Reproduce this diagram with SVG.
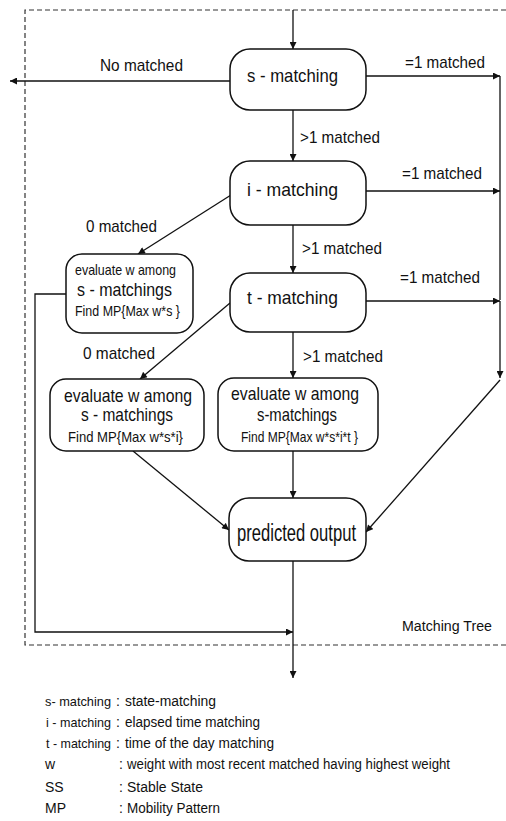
<svg xmlns="http://www.w3.org/2000/svg" width="506" height="821" viewBox="0 0 506 821">
  <defs>
    <marker id="arrow" viewBox="0 0 10 10" refX="10" refY="5" markerWidth="8" markerHeight="7" markerUnits="userSpaceOnUse" orient="auto">
      <path d="M0,0 L10,5 L0,10 z" fill="#111"/>
    </marker>
    <style>
      .box { fill: #fff; stroke: #111; stroke-width: 1.5; }
      .edge { fill: none; stroke: #111; stroke-width: 1.3; }
      .arr { marker-end: url(#arrow); }
      .frame { fill: none; stroke: #333; stroke-width: 1.2; stroke-dasharray: 5 3; }
      text { font-family: "Liberation Sans", Arial, sans-serif; fill: #111; }
      .lbl { font-size: 17px; }
      .node { font-size: 19px; }
      .small { font-size: 15px; }
      .legend { font-size: 14px; }
      .key { font-size: 13px; }
    </style>
  </defs>

  <!-- dashed boundary of the matching tree -->
  <g id="frame">
    <path class="frame" d="M506,10 H25 V645 H506"/>
    <text x="402" y="631" font-size="15.5" textLength="90" lengthAdjust="spacingAndGlyphs">Matching Tree</text>
  </g>

  <!-- connectors -->
  <g id="connectors">
    <line class="edge arr" x1="293" y1="10" x2="293" y2="49"/>
    <line class="edge arr" x1="230" y1="81" x2="10" y2="81"/>
    <line class="edge arr" x1="366" y1="76" x2="500" y2="76"/>
    <line class="edge" x1="500" y1="76" x2="500" y2="300"/>
    <line class="edge arr" x1="293" y1="110" x2="293" y2="161"/>
    <line class="edge arr" x1="366" y1="191" x2="500" y2="191"/>
    <line class="edge arr" x1="231" y1="195" x2="138" y2="254"/>
    <line class="edge arr" x1="293" y1="225" x2="293" y2="273"/>
    <line class="edge arr" x1="366" y1="301" x2="500" y2="301"/>
    <line class="edge arr" x1="500" y1="301" x2="500" y2="378"/>
    <line class="edge arr" x1="230" y1="303" x2="140" y2="379"/>
    <line class="edge arr" x1="293" y1="332" x2="293" y2="378"/>
    <line class="edge arr" x1="500" y1="380" x2="366" y2="532"/>
    <line class="edge arr" x1="133" y1="451" x2="229" y2="530"/>
    <line class="edge arr" x1="293" y1="451" x2="293" y2="498"/>
    <polyline class="edge arr" points="66,294 35,294 35,632 293,632"/>
    <line class="edge arr" x1="293" y1="561" x2="293" y2="678"/>

    <text class="lbl" x="100" y="71" textLength="83" lengthAdjust="spacingAndGlyphs">No matched</text>
    <text class="lbl" x="405" y="68" textLength="80" lengthAdjust="spacingAndGlyphs">=1 matched</text>
    <text class="lbl" x="300" y="143" textLength="80" lengthAdjust="spacingAndGlyphs">&gt;1 matched</text>
    <text class="lbl" x="402" y="179" textLength="80" lengthAdjust="spacingAndGlyphs">=1 matched</text>
    <text class="lbl" x="86" y="232" textLength="71" lengthAdjust="spacingAndGlyphs">0 matched</text>
    <text class="lbl" x="302" y="254" textLength="80" lengthAdjust="spacingAndGlyphs">&gt;1 matched</text>
    <text class="lbl" x="400" y="283" textLength="80" lengthAdjust="spacingAndGlyphs">=1 matched</text>
    <text class="lbl" x="83" y="359" textLength="72" lengthAdjust="spacingAndGlyphs">0 matched</text>
    <text class="lbl" x="303" y="362" textLength="80" lengthAdjust="spacingAndGlyphs">&gt;1 matched</text>
  </g>

  <g id="s-matching">
    <rect class="box" x="230" y="49" width="136" height="61" rx="20"/>
    <text class="node" x="247" y="82" textLength="91" lengthAdjust="spacingAndGlyphs">s  -  matching</text>
  </g>

  <g id="i-matching">
    <rect class="box" x="230" y="161" width="136" height="64" rx="20"/>
    <text class="node" x="247" y="196" textLength="91" lengthAdjust="spacingAndGlyphs">i  -  matching</text>
  </g>

  <g id="t-matching">
    <rect class="box" x="230" y="273" width="136" height="59" rx="20"/>
    <text class="node" x="247" y="304" textLength="91" lengthAdjust="spacingAndGlyphs">t  -  matching</text>
  </g>

  <g id="eval-s">
    <rect class="box" x="66" y="254" width="127" height="79" rx="16"/>
    <text class="small" x="75" y="275" textLength="101" lengthAdjust="spacingAndGlyphs">evaluate w among</text>
    <text class="node" x="77" y="296" textLength="95" lengthAdjust="spacingAndGlyphs">s - matchings</text>
    <text class="small" x="75" y="316" textLength="105" lengthAdjust="spacingAndGlyphs">Find MP{Max w*s }</text>
  </g>

  <g id="eval-si">
    <rect class="box" x="50" y="379" width="154" height="72" rx="16"/>
    <text class="node" x="64" y="402" textLength="128" lengthAdjust="spacingAndGlyphs">evaluate w among</text>
    <text class="node" x="81" y="421" textLength="92" lengthAdjust="spacingAndGlyphs">s - matchings</text>
    <text class="small" x="68" y="442" textLength="115" lengthAdjust="spacingAndGlyphs">Find MP{Max w*s*i}</text>
  </g>

  <g id="eval-sit">
    <rect class="box" x="218" y="378" width="160" height="73" rx="16"/>
    <text class="node" x="231" y="400" textLength="128" lengthAdjust="spacingAndGlyphs">evaluate w among</text>
    <text class="node" x="257" y="421" textLength="80" lengthAdjust="spacingAndGlyphs">s-matchings</text>
    <text class="small" x="241" y="442" textLength="117" lengthAdjust="spacingAndGlyphs">Find MP{Max w*s*i*t }</text>
  </g>

  <g id="predicted-output">
    <rect class="box" x="229" y="498" width="137" height="63" rx="20"/>
    <text x="237" y="541" font-size="23" textLength="119" lengthAdjust="spacingAndGlyphs">predicted output</text>
  </g>

  <!-- abbreviations -->
  <g id="legend" class="legend">
    <text class="key" x="45" y="706" textLength="66" lengthAdjust="spacingAndGlyphs">s- matching</text>
    <text x="116" y="706">:</text>
    <text x="125" y="706" textLength="91" lengthAdjust="spacingAndGlyphs">state-matching</text>

    <text class="key" x="46" y="727" textLength="65" lengthAdjust="spacingAndGlyphs">i - matching</text>
    <text x="116" y="727">:</text>
    <text x="125" y="727" textLength="135" lengthAdjust="spacingAndGlyphs">elapsed time matching</text>

    <text class="key" x="46" y="748" textLength="65" lengthAdjust="spacingAndGlyphs">t - matching</text>
    <text x="116" y="748">:</text>
    <text x="125" y="748" textLength="149" lengthAdjust="spacingAndGlyphs">time of the day matching</text>

    <text x="45" y="769">w</text>
    <text x="119" y="769">:</text>
    <text x="127" y="769" textLength="323" lengthAdjust="spacingAndGlyphs">weight with most recent matched having highest weight</text>

    <text x="45" y="792">SS</text>
    <text x="119" y="792">:</text>
    <text x="127" y="792" textLength="76" lengthAdjust="spacingAndGlyphs">Stable State</text>

    <text x="45" y="813">MP</text>
    <text x="119" y="813">:</text>
    <text x="127" y="813" textLength="93" lengthAdjust="spacingAndGlyphs">Mobility Pattern</text>
  </g>
</svg>
